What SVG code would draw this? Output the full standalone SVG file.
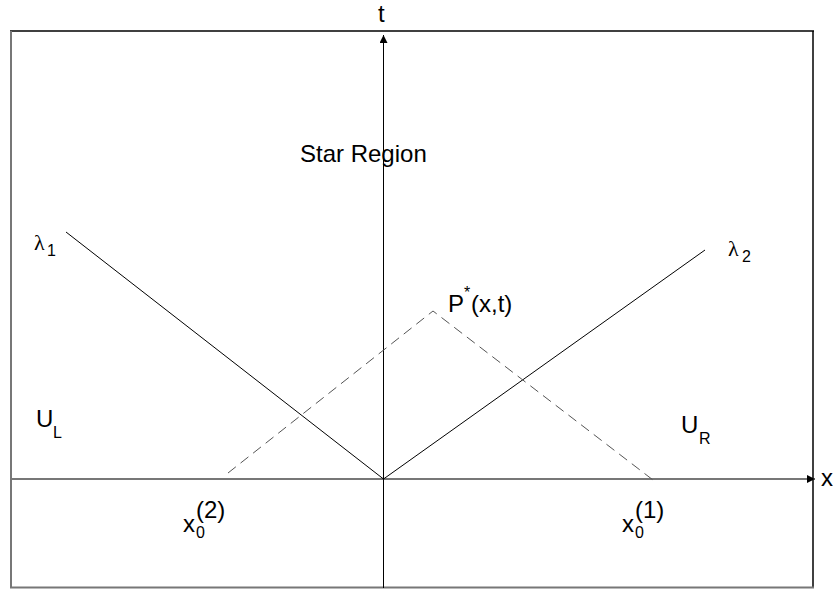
<svg xmlns="http://www.w3.org/2000/svg" width="833" height="589" viewBox="0 0 833 589">
<defs>
<marker id="ah" viewBox="0 0 10 10" refX="10" refY="5" markerWidth="8" markerHeight="8" markerUnits="userSpaceOnUse" orient="auto"><path d="M0,0 L10,5 L0,10 z" fill="#000"/></marker>
<style>
text{font-family:"Liberation Sans",Arial,sans-serif;fill:#000}
.lbl{font-size:24px}
.sub{font-size:16px}
.gr{font-family:"Liberation Serif","Times New Roman",serif;font-size:22px}
.ln{stroke:#000;stroke-width:1;fill:none}
.dash{stroke:#555;stroke-width:1;fill:none;stroke-dasharray:10,6}
</style>
</defs>
<rect width="833" height="589" fill="#fff"/>
<g id="frame">
<line x1="10" y1="31" x2="814" y2="31" stroke="#000" stroke-width="1.5"/>
<line x1="813" y1="31" x2="813" y2="588" stroke="#000" stroke-width="1.5"/>
<line x1="11" y1="31" x2="11" y2="588" stroke="#777" stroke-width="2"/>
<line x1="10" y1="587.5" x2="814" y2="587.5" stroke="#777" stroke-width="2"/>
</g>
<g id="connectors">
<line x1="10" y1="479" x2="815" y2="479" stroke="#777" stroke-width="2" marker-end="url(#ah)"/>
<line x1="383.5" y1="588" x2="383.5" y2="35" class="ln" marker-end="url(#ah)"/>
<line x1="66" y1="232" x2="383.5" y2="479" class="ln"/>
<line x1="383.5" y1="479" x2="705" y2="250" class="ln"/>
<polyline points="228,473 433,311 653,480" class="dash"/>
</g>
<g id="t-label"><text x="378" y="22" class="lbl">t</text></g>
<g id="x-label"><text x="821" y="486" class="lbl">x</text></g>
<g id="star-region"><text x="300" y="162" class="lbl">Star Region</text></g>
<g id="lambda1"><text x="34" y="250" class="gr">λ</text><text x="47" y="256" class="sub">1</text></g>
<g id="lambda2"><text x="728" y="256" class="gr">λ</text><text x="742" y="262" class="sub">2</text></g>
<g id="pstar"><text x="448" y="312" class="lbl">P</text><text x="464" y="298" class="sub">*</text><text x="471" y="312" class="lbl">(x,t)</text></g>
<g id="UL"><text x="36" y="427" class="lbl">U</text><text x="53" y="438" class="sub">L</text></g>
<g id="UR"><text x="681" y="433" class="lbl">U</text><text x="699" y="444" class="sub">R</text></g>
<g id="x02"><text x="183" y="532" class="lbl">x</text><text x="196" y="538" class="sub">0</text><text x="196" y="518" class="lbl">(2)</text></g>
<g id="x01"><text x="622" y="532" class="lbl">x</text><text x="635" y="538" class="sub">0</text><text x="635" y="518" class="lbl">(1)</text></g>
</svg>
